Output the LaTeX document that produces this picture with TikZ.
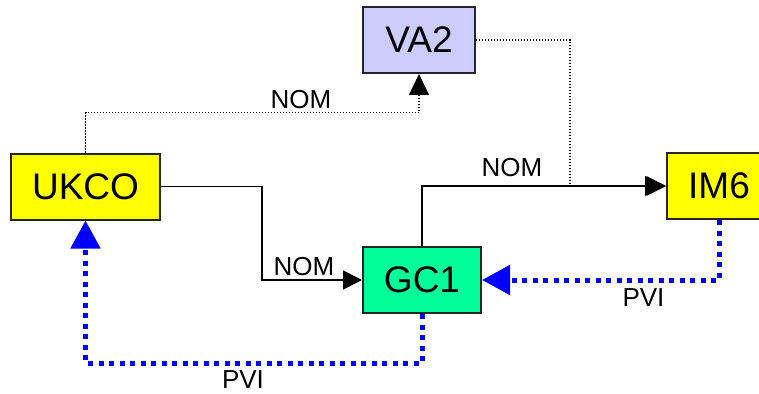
\documentclass[tikz,border=0pt]{standalone}
\usepackage{fontspec}
\setmainfont{Liberation Sans}
\usepackage{tikz}
\usetikzlibrary{arrows.meta,positioning,calc}
\definecolor{ukyellow}{HTML}{FFFF00}
\definecolor{valilac}{HTML}{CCCCFF}
\definecolor{gcgreen}{HTML}{00FF99}
\definecolor{pviblue}{HTML}{0000FF}

\begin{document}
\begin{tikzpicture}[
        x=1pt, y=-1pt,
        boxsty/.style={
            draw=black!85, rectangle, line width=2pt,
            inner sep=0pt,
            minimum height=66pt,
            font=\fontsize{37}{40}\selectfont,
        },
        nomsty/.style={-{Triangle[length=19pt,width=19pt]}, line width=1.6pt},
        dotsty/.style={-{Triangle[length=21pt,width=20pt]}, line width=1.4pt,
            dash pattern=on 1.4pt off 1.6pt},
        pvisty/.style={-{Triangle[length=28pt,width=29pt]}, pviblue,
            line width=5pt, dash pattern=on 5pt off 5.5pt},
        lblsty/.style={inner sep=0pt, font=\fontsize{26}{28}\selectfont},
    ]
    \useasboundingbox (0,0) rectangle (759,393);

    \node[boxsty, fill=ukyellow, minimum width=149pt] at (85.5,186.5) (ukco) {UKCO};
    \node[boxsty, fill=valilac, minimum width=112pt] at (419,40) (va2) {VA2};
    \node[boxsty, fill=gcgreen, minimum width=118pt] at (422,280) (gc1) {GC1};
    \node[boxsty, fill=ukyellow, minimum width=104pt] at (719,186) (im6) {IM6};

    % NOM links
    \draw[dotsty] (ukco.north) -- ++(0,-40) -| (va2.south);
    \draw[nomsty] (gc1.north) |- (im6.west);
    \draw[dotsty] (va2.east) -| ($(im6.west)+(-96,0)$) -- (im6.west);
    \draw[nomsty] (ukco.east) -- ++(101,0) |- (gc1.west);

    \node[lblsty] at (301,100) {NOM};
    \node[lblsty] at (512,167.5) {NOM};
    \node[lblsty] at (304,266.5) {NOM};

    % PVI links
    \draw[pvisty] (im6.south) |- (gc1.east);
    \draw[pvisty] (gc1.south) -- ++(0,49) -| (ukco.south);

    \node[lblsty] at (643.5,297.5) {PVI};
    \node[lblsty] at (243,380) {PVI};

\end{tikzpicture}
\end{document}
